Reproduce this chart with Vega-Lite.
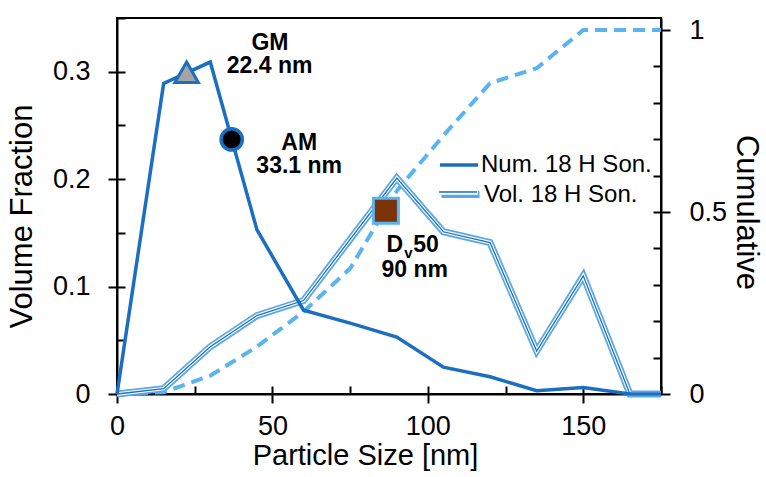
{
  "$schema": "https://vega.github.io/schema/vega-lite/v6.json",
  "width": 544,
  "height": 376,
  "autosize": "none",
  "padding": {"left": 117, "top": 18, "right": 105, "bottom": 83},
  "background": "white",
  "config": {
    "font": "Liberation Sans",
    "view": {"stroke": "black", "strokeWidth": 2},
    "axis": {"grid": false, "domainColor": "black", "domainWidth": 2, "tickColor": "black", "tickWidth": 2, "labelColor": "black", "titleColor": "black", "labelFont": "Liberation Sans", "titleFont": "Liberation Sans", "labelFontSize": 27, "titleFontSize": 29, "titleFontWeight": "normal", "labelFlush": false, "labelOverlap": false},
    "legend": {"orient": "none", "title": null, "symbolType": "stroke", "symbolSize": 1444, "labelFont": "Liberation Sans", "labelFontSize": 24, "labelColor": "black", "labelOffset": 1, "labelLimit": 400, "padding": 0}
  },
  "datasets": {
    "num": [
      {"size": 0, "frac": 0, "series": "Num. 18 H Son."},
      {"size": 15, "frac": 0.289, "series": "Num. 18 H Son."},
      {"size": 30, "frac": 0.309, "series": "Num. 18 H Son."},
      {"size": 45, "frac": 0.153, "series": "Num. 18 H Son."},
      {"size": 60, "frac": 0.078, "series": "Num. 18 H Son."},
      {"size": 75, "frac": 0.066, "series": "Num. 18 H Son."},
      {"size": 90, "frac": 0.053, "series": "Num. 18 H Son."},
      {"size": 105, "frac": 0.025, "series": "Num. 18 H Son."},
      {"size": 120, "frac": 0.016, "series": "Num. 18 H Son."},
      {"size": 135, "frac": 0.003, "series": "Num. 18 H Son."},
      {"size": 150, "frac": 0.006, "series": "Num. 18 H Son."},
      {"size": 165, "frac": 0, "series": "Num. 18 H Son."},
      {"size": 175, "frac": 0, "series": "Num. 18 H Son."}
    ],
    "vol": [
      {"size": 0, "frac": 0, "series": "Vol. 18 H Son."},
      {"size": 15, "frac": 0.005, "series": "Vol. 18 H Son."},
      {"size": 30, "frac": 0.044, "series": "Vol. 18 H Son."},
      {"size": 45, "frac": 0.073, "series": "Vol. 18 H Son."},
      {"size": 60, "frac": 0.087, "series": "Vol. 18 H Son."},
      {"size": 75, "frac": 0.144, "series": "Vol. 18 H Son."},
      {"size": 90, "frac": 0.201, "series": "Vol. 18 H Son."},
      {"size": 105, "frac": 0.151, "series": "Vol. 18 H Son."},
      {"size": 120, "frac": 0.141, "series": "Vol. 18 H Son."},
      {"size": 135, "frac": 0.040, "series": "Vol. 18 H Son."},
      {"size": 150, "frac": 0.110, "series": "Vol. 18 H Son."},
      {"size": 165, "frac": 0, "series": "Vol. 18 H Son."},
      {"size": 175, "frac": 0, "series": "Vol. 18 H Son."}
    ],
    "cum": [
      {"size": 0, "cum": 0},
      {"size": 15, "cum": 0.005},
      {"size": 30, "cum": 0.05},
      {"size": 45, "cum": 0.13},
      {"size": 60, "cum": 0.226},
      {"size": 75, "cum": 0.345},
      {"size": 90, "cum": 0.558},
      {"size": 105, "cum": 0.71},
      {"size": 120, "cum": 0.854},
      {"size": 135, "cum": 0.895},
      {"size": 150, "cum": 1.0},
      {"size": 165, "cum": 1.0},
      {"size": 175, "cum": 1.0}
    ],
    "gm": [{"size": 22.4, "frac": 0.2995}],
    "am": [{"size": 36.9, "frac": 0.237}],
    "dv50": [{"size": 86.5, "cum": 0.5036}],
    "labels": [
      {"size": 49.2, "frac": 0.3202, "label": "GM"},
      {"size": 49.1, "frac": 0.2988, "label": "22.4 nm"},
      {"size": 58.6, "frac": 0.2271, "label": "AM"},
      {"size": 58.6, "frac": 0.2057, "label": "33.1 nm"},
      {"size": 95.75, "frac": 0.1085, "label": "90 nm"}
    ],
    "dmain": [{"size": 92.05, "frac": 0.1325, "label": "D"}],
    "dsub": [{"size": 92.4, "frac": 0.1269, "label": "v"}],
    "dnum": [{"size": 95.27, "frac": 0.1325, "label": "50"}]
  },
  "layer": [
    {
      "data": {"name": "cum"},
      "mark": {"type": "line", "strokeDash": [12, 7], "strokeWidth": 4, "color": "#5ab4f0"},
      "encoding": {
        "x": {"field": "size", "type": "quantitative", "scale": {"domain": [0, 175]}, "axis": null},
        "y": {"field": "cum", "type": "quantitative", "scale": {"domain": [0, 1.033]},
          "axis": {"orient": "right", "values": [0, 0.5, 1], "format": "~g", "tickSize": 9, "labelPadding": 19, "title": "Cumulative", "titleFontSize": 31, "titlePadding": 3, "titleY": 194}}
      }
    },
    {
      "data": {"name": "vol"},
      "mark": {"type": "line", "strokeWidth": 7},
      "encoding": {
        "x": {"field": "size", "type": "quantitative", "scale": {"domain": [0, 175]},
          "axis": {"orient": "bottom", "values": [0, 25, 50, 75, 100, 125, 150, 175], "tickSize": -8, "labels": false, "domain": false, "title": null}},
        "y": {"field": "frac", "type": "quantitative", "scale": {"domain": [0, 0.35]},
          "axis": {"orient": "left", "values": [0, 0.05, 0.1, 0.15, 0.2, 0.25, 0.3, 0.35], "tickSize": -8, "labels": false, "domain": false, "title": null}},
        "color": {"field": "series", "type": "nominal", "scale": {"domain": ["Vol. 18 H Son."], "range": ["#5aa7e8"]},
          "legend": {"legendX": 321, "legendY": 154, "symbolStrokeWidth": 7}}
      }
    },
    {
      "data": {"name": "vol"},
      "mark": {"type": "line", "strokeWidth": 3.5},
      "encoding": {
        "x": {"field": "size", "type": "quantitative", "scale": {"domain": [0, 175]}, "axis": null},
        "y": {"field": "frac", "type": "quantitative", "scale": {"domain": [0, 0.35]}, "axis": null},
        "color": {"field": "series", "type": "nominal", "scale": {"domain": ["Vol. 18 H Son."], "range": ["#ffffff"]},
          "legend": {"legendX": 321, "legendY": 154, "symbolStrokeWidth": 3.5, "labelExpr": "''"}}
      }
    },
    {
      "data": {"name": "vol"},
      "mark": {"type": "line", "strokeWidth": 1.3},
      "encoding": {
        "x": {"field": "size", "type": "quantitative", "scale": {"domain": [0, 175]}, "axis": null},
        "y": {"field": "frac", "type": "quantitative", "scale": {"domain": [0, 0.35]}, "axis": null},
        "color": {"field": "series", "type": "nominal", "scale": {"domain": ["Vol. 18 H Son."], "range": ["#1a6fc0"]},
          "legend": {"legendX": 321, "legendY": 154, "symbolStrokeWidth": 1.3, "labelExpr": "''"}}
      }
    },
    {
      "data": {"name": "num"},
      "mark": {"type": "line", "strokeWidth": 3.5},
      "encoding": {
        "x": {"field": "size", "type": "quantitative", "scale": {"domain": [0, 175]},
          "axis": {"orient": "bottom", "values": [0, 50, 100, 150], "tickSize": 9, "labelPadding": 10, "title": "Particle Size [nm]", "titlePadding": 2, "titleX": 248}},
        "y": {"field": "frac", "type": "quantitative", "scale": {"domain": [0, 0.35]},
          "axis": {"orient": "left", "values": [0, 0.1, 0.2, 0.3], "format": "~g", "tickSize": 9, "labelPadding": 18, "title": "Volume Fraction", "titleFontSize": 31, "titlePadding": 14, "titleY": 198}},
        "color": {"field": "series", "type": "nominal", "scale": {"domain": ["Num. 18 H Son."], "range": ["#1a6fc0"]},
          "legend": {"legendX": 321, "legendY": 126, "symbolStrokeWidth": 3.5}}
      }
    },
    {
      "data": {"name": "gm"},
      "mark": {"type": "point", "shape": "triangle-up", "size": 550, "filled": true, "fill": "#a5a5a5", "stroke": "#1a6fc0", "strokeWidth": 3, "opacity": 1},
      "encoding": {
        "x": {"field": "size", "type": "quantitative", "scale": {"domain": [0, 175]}, "axis": null},
        "y": {"field": "frac", "type": "quantitative", "scale": {"domain": [0, 0.35]}, "axis": null}
      }
    },
    {
      "data": {"name": "am"},
      "mark": {"type": "point", "shape": "circle", "size": 452, "filled": true, "fill": "#000000", "stroke": "#1a6fc0", "strokeWidth": 3.5, "opacity": 1},
      "encoding": {
        "x": {"field": "size", "type": "quantitative", "scale": {"domain": [0, 175]}, "axis": null},
        "y": {"field": "frac", "type": "quantitative", "scale": {"domain": [0, 0.35]}, "axis": null}
      }
    },
    {
      "data": {"name": "dv50"},
      "mark": {"type": "point", "shape": "square", "size": 625, "filled": true, "fill": "#7b3306", "stroke": "#5ab4f0", "strokeWidth": 3, "opacity": 1},
      "encoding": {
        "x": {"field": "size", "type": "quantitative", "scale": {"domain": [0, 175]}, "axis": null},
        "y": {"field": "cum", "type": "quantitative", "scale": {"domain": [0, 1.033]},
          "axis": {"orient": "right", "values": [0, 0.1, 0.2, 0.3, 0.4, 0.5, 0.6, 0.7, 0.8, 0.9, 1], "tickSize": -8, "labels": false, "domain": false, "title": null}}
      }
    },
    {
      "data": {"name": "labels"},
      "mark": {"type": "text", "fontSize": 23, "fontWeight": "bold", "align": "center", "baseline": "alphabetic", "color": "black", "font": "Liberation Sans"},
      "encoding": {
        "x": {"field": "size", "type": "quantitative", "scale": {"domain": [0, 175]}, "axis": null},
        "y": {"field": "frac", "type": "quantitative", "scale": {"domain": [0, 0.35]}, "axis": null},
        "text": {"field": "label"}
      }
    },
    {
      "data": {"name": "dmain"},
      "mark": {"type": "text", "fontSize": 23, "fontWeight": "bold", "align": "right", "baseline": "alphabetic", "color": "black", "font": "Liberation Sans"},
      "encoding": {
        "x": {"field": "size", "type": "quantitative", "scale": {"domain": [0, 175]}, "axis": null},
        "y": {"field": "frac", "type": "quantitative", "scale": {"domain": [0, 0.35]}, "axis": null},
        "text": {"field": "label"}
      }
    },
    {
      "data": {"name": "dsub"},
      "mark": {"type": "text", "fontSize": 15, "fontWeight": "bold", "align": "left", "baseline": "alphabetic", "color": "black", "font": "Liberation Sans"},
      "encoding": {
        "x": {"field": "size", "type": "quantitative", "scale": {"domain": [0, 175]}, "axis": null},
        "y": {"field": "frac", "type": "quantitative", "scale": {"domain": [0, 0.35]}, "axis": null},
        "text": {"field": "label"}
      }
    },
    {
      "data": {"name": "dnum"},
      "mark": {"type": "text", "fontSize": 23, "fontWeight": "bold", "align": "left", "baseline": "alphabetic", "color": "black", "font": "Liberation Sans"},
      "encoding": {
        "x": {"field": "size", "type": "quantitative", "scale": {"domain": [0, 175]}, "axis": null},
        "y": {"field": "frac", "type": "quantitative", "scale": {"domain": [0, 0.35]}, "axis": null},
        "text": {"field": "label"}
      }
    }
  ],
  "resolve": {
    "scale": {"y": "independent", "color": "independent"},
    "axis": {"x": "independent", "y": "independent"},
    "legend": {"color": "independent"}
  }
}
